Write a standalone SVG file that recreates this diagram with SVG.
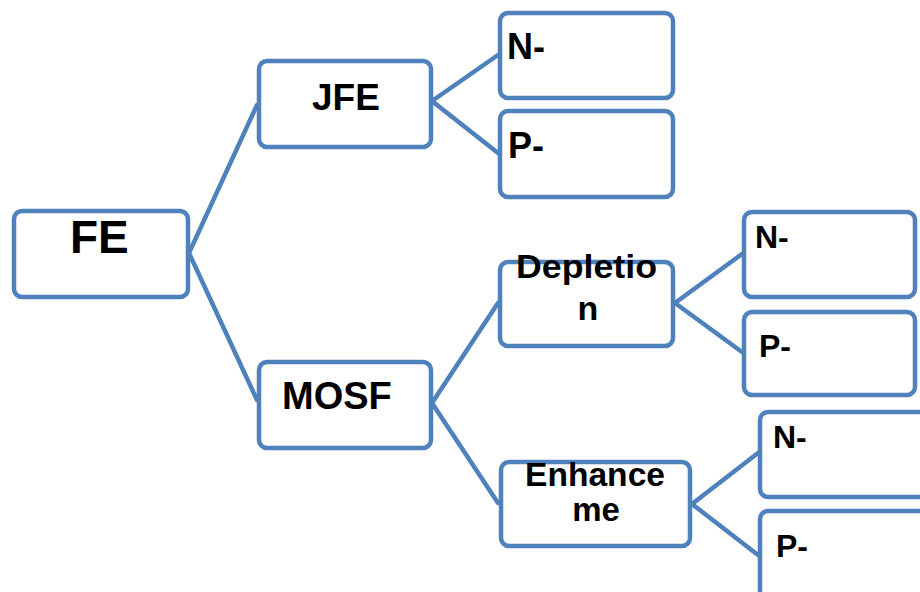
<svg xmlns="http://www.w3.org/2000/svg" width="920" height="592" viewBox="0 0 920 592">
<style>
.box{fill:#fff;stroke:#4f81bd;stroke-width:4.5}
.con{stroke:#4f81bd;stroke-width:4.5;fill:none;stroke-linecap:round}
text{font-family:"Liberation Sans",Arial,sans-serif;font-weight:bold;fill:#000}
</style>
<rect width="920" height="592" fill="#fff"/>
<g id="connectors">
<polyline class="con" points="257,105 189,253 257,400"/>
<polyline class="con" points="498,55 432,101 498,153"/>
<polyline class="con" points="498,303 432,403 498,503"/>
<polyline class="con" points="742,254 675,303 742,352"/>
<polyline class="con" points="758,453 692,504 758,555"/>
</g>
<g id="fe"><rect class="box" x="14" y="211" width="174" height="86" rx="8"/><text x="70" y="253" font-size="46">FE</text></g>
<g id="jfe"><rect class="box" x="259" y="61" width="172" height="86" rx="8"/><text x="312" y="110" font-size="37">JFE</text></g>
<g id="jfe-n"><rect class="box" x="500" y="13" width="173" height="85" rx="8"/><text x="507" y="59" font-size="36">N-</text></g>
<g id="jfe-p"><rect class="box" x="500" y="111" width="173" height="86" rx="8"/><text x="508" y="158" font-size="36">P-</text></g>
<g id="mosf"><rect class="box" x="259" y="362" width="172" height="86" rx="8"/><text x="282" y="409" font-size="38">MOSF</text></g>
<g id="depletion"><rect class="box" x="500" y="262" width="173" height="84" rx="8"/><text x="516" y="278" font-size="34" textLength="141" lengthAdjust="spacingAndGlyphs">Depletio</text><text x="588" y="320" font-size="34" text-anchor="middle">n</text></g>
<g id="dep-n"><rect class="box" x="744" y="212" width="171" height="85" rx="8"/><text x="755" y="248" font-size="32">N-</text></g>
<g id="dep-p"><rect class="box" x="744" y="312" width="171" height="83" rx="8"/><text x="759" y="357" font-size="32">P-</text></g>
<g id="enhancement"><rect class="box" x="501" y="462" width="189" height="84" rx="8"/><text x="525" y="486" font-size="33" textLength="140" lengthAdjust="spacingAndGlyphs">Enhance</text><text x="596" y="521" font-size="33" text-anchor="middle">me</text></g>
<g id="enh-n"><rect class="box" x="760" y="412" width="175" height="85" rx="8"/><text x="773" y="448" font-size="32">N-</text></g>
<g id="enh-p"><rect class="box" x="760" y="511" width="175" height="100" rx="8"/><text x="776" y="557" font-size="32">P-</text></g>
</svg>
